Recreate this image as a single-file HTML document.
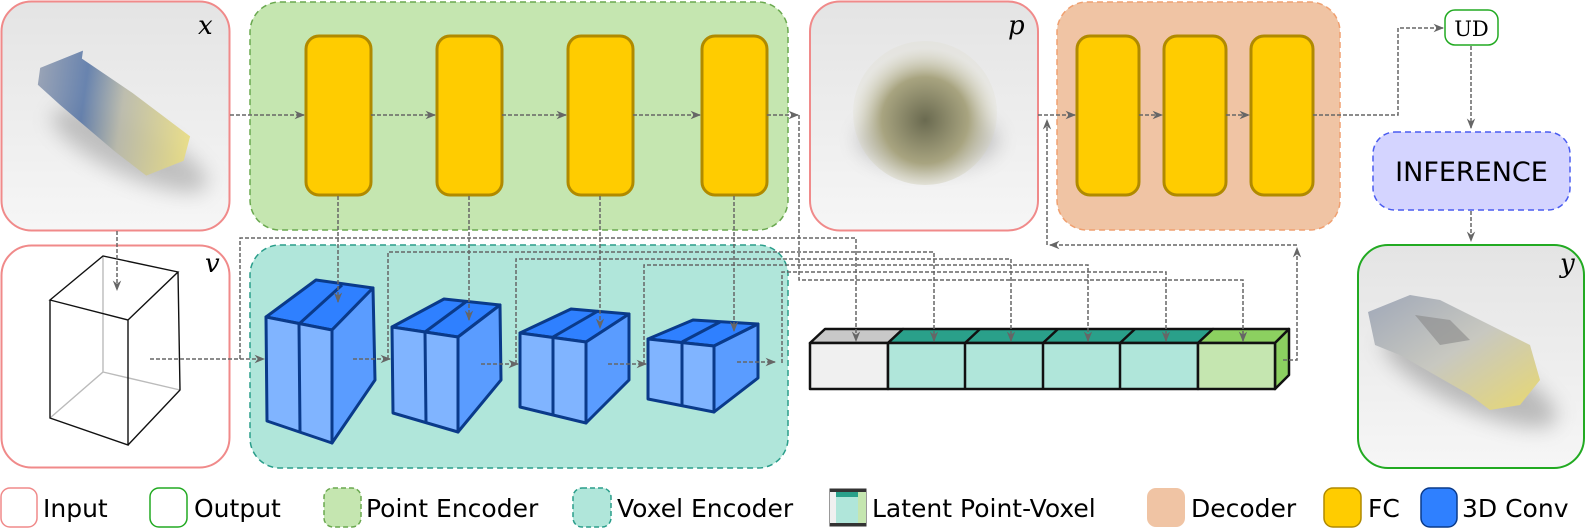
<!DOCTYPE html>
<html><head><meta charset="utf-8"><style>
html,body{margin:0;padding:0;background:#fff;}
svg{display:block}
text{font-family:"DejaVu Sans","Liberation Sans",sans-serif;}
.sym{font-family:"DejaVu Serif","Liberation Serif",serif;font-style:italic;font-size:26px;}
</style></head><body>
<svg width="1587" height="528" viewBox="0 0 1587 528" xmlns="http://www.w3.org/2000/svg">
<defs>
<linearGradient id="bg" x1="0" y1="0" x2="0" y2="1"><stop offset="0" stop-color="#e4e4e4"/><stop offset="1" stop-color="#f6f6f6"/></linearGradient>
<linearGradient id="car" x1="0" y1="0" x2="1" y2="0"><stop offset="0" stop-color="#8f9bb0"/><stop offset="0.3" stop-color="#5a78a8"/><stop offset="0.55" stop-color="#b8b8a8"/><stop offset="1" stop-color="#e8dc80"/></linearGradient>
<radialGradient id="cloud" cx="0.5" cy="0.55" r="0.5"><stop offset="0" stop-color="#6a6a50"/><stop offset="0.6" stop-color="#a8a480"/><stop offset="1" stop-color="#d8d6c0" stop-opacity="0.2"/></radialGradient>
<linearGradient id="car2" x1="0" y1="0" x2="1" y2="1"><stop offset="0" stop-color="#a0a8b8"/><stop offset="0.5" stop-color="#c8c8c0"/><stop offset="1" stop-color="#e8d870"/></linearGradient>
<filter id="bl" x="-50%" y="-50%" width="200%" height="200%"><feGaussianBlur stdDeviation="10"/></filter>
<marker id="ar" viewBox="0 0 10 10" refX="9" refY="5" markerWidth="7" markerHeight="7" orient="auto"><path d="M0,1 L10,5 L0,9 L3,5 z" fill="#666"/></marker>
</defs>

<rect x="1.5" y="1.5" width="228" height="229" rx="30" fill="url(#bg)" stroke="#f08a8a" stroke-width="2"/>
<ellipse cx="130" cy="150" rx="85" ry="25" fill="#666" opacity="0.35" filter="url(#bl)" transform="rotate(25 130 150)"/>
<path d="M35,78 L75,55 L75,63 L130,90 L193,125 L190,150 L155,170 L120,150 L60,112 L35,95 z" fill="url(#car)" opacity="0.9" transform="rotate(8 110 110)"/>
<text class="sym" x="198" y="34">x</text>

<rect x="1.5" y="245.5" width="228" height="222" rx="30" fill="#fff" stroke="#f08a8a" stroke-width="2"/>
<g fill="none" stroke-width="1.4">
<path d="M103,256 L103,372 L50,418 M103,372 L180,390" stroke="#bbb"/>
<path d="M50,300 L128,320 L178,272 L103,256 Z M50,300 L50,418 L128,445 L128,320 M128,445 L180,390 L178,272" stroke="#111"/>
</g>
<text class="sym" x="205" y="272">v</text>

<rect x="250" y="2" width="538" height="228" rx="30" fill="#c5e6b0" stroke="#6aa84f" stroke-width="1.5" stroke-dasharray="6,4"/>
<rect x="250" y="245" width="538" height="223" rx="30" fill="#b0e6da" stroke="#2a9d8a" stroke-width="1.5" stroke-dasharray="6,4"/>

<rect x="810" y="1.5" width="228" height="229" rx="30" fill="url(#bg)" stroke="#f08a8a" stroke-width="2"/>
<ellipse cx="928" cy="140" rx="70" ry="30" fill="#555" opacity="0.3" filter="url(#bl)"/>
<ellipse cx="925" cy="113" rx="72" ry="72" fill="url(#cloud)"/>
<text class="sym" x="1008" y="34">p</text>

<rect x="1057" y="2" width="283" height="228" rx="30" fill="#f0c4a4" stroke="#f0a070" stroke-width="1.5" stroke-dasharray="6,4"/>

<g fill="#ffcc00" stroke="#b08a00" stroke-width="3">
<rect x="306" y="36" width="65" height="159" rx="13"/>
<rect x="437" y="36" width="65" height="159" rx="13"/>
<rect x="568" y="36" width="65" height="159" rx="13"/>
<rect x="702" y="36" width="65" height="159" rx="13"/>
<rect x="1077" y="36" width="62" height="159" rx="13"/>
<rect x="1164" y="36" width="62" height="159" rx="13"/>
<rect x="1251" y="36" width="62" height="159" rx="13"/>
</g>

<rect x="1445" y="10" width="53" height="35" rx="10" fill="#fff" stroke="#22aa22" stroke-width="1.5"/>
<text x="1471.5" y="36" text-anchor="middle" style="font-family:'DejaVu Serif','Liberation Serif',serif;font-size:21px">UD</text>
<rect x="1373" y="132" width="197" height="78" rx="22" fill="#d4d4ff" stroke="#4a5cf0" stroke-width="1.5" stroke-dasharray="6,4"/>
<text x="1471.5" y="181" text-anchor="middle" style="font-size:27px">INFERENCE</text>
<rect x="1358" y="245" width="226" height="223" rx="30" fill="url(#bg)" stroke="#22aa22" stroke-width="2"/>
<ellipse cx="1470" cy="380" rx="95" ry="28" fill="#555" opacity="0.35" filter="url(#bl)" transform="rotate(25 1470 380)"/>
<path d="M1368,312 L1410,295 L1440,300 L1500,330 L1530,345 L1540,380 L1520,405 L1490,410 L1470,395 L1400,355 L1375,345 z" fill="url(#car2)"/>
<path d="M1415,315 L1450,320 L1470,340 L1440,345 z" fill="#888" opacity="0.6"/>
<text class="sym" x="1560" y="272">y</text>

<g stroke="#0a3a8a" stroke-width="3" stroke-linejoin="round">
<path d="M266,317 L316,280 L373,288 L332,330 Z" fill="#2f80ff"/>
<path d="M332,330 L373,288 L375,380 L332,443 Z" fill="#5a9cff"/>
<path d="M266,317 L332,330 L332,443 L267,421 Z" fill="#80b4ff"/>
<path d="M299,324 L300,432 M299,324 L342,285" fill="none"/>
<path d="M392,327 L444,299 L500,305 L458,337 Z" fill="#2f80ff"/>
<path d="M458,337 L500,305 L501,380 L458,432 Z" fill="#5a9cff"/>
<path d="M392,327 L458,337 L458,432 L393,413 Z" fill="#80b4ff"/>
<path d="M425,332 L426,423 M425,332 L467,301" fill="none"/>
<path d="M520,333 L571,309 L629,314 L586,342 Z" fill="#2f80ff"/>
<path d="M586,342 L629,314 L629,380 L586,423 Z" fill="#5a9cff"/>
<path d="M520,333 L586,342 L586,423 L520,407 Z" fill="#80b4ff"/>
<path d="M553,337 L553,415 M553,337 L598,311" fill="none"/>
<path d="M648,339 L693,320 L758,324 L714,346 Z" fill="#2f80ff"/>
<path d="M714,346 L758,324 L758,378 L714,412 Z" fill="#5a9cff"/>
<path d="M648,339 L714,346 L714,412 L648,399 Z" fill="#80b4ff"/>
<path d="M682,342 L682,405 M682,342 L720,322" fill="none"/>
</g>

<g stroke="#111" stroke-width="2.5" stroke-linejoin="round">
<path d="M810,343 L825,329 L903,329 L888,343 Z" fill="#c8c8c8"/>
<path d="M888,343 L903,329 L1213,329 L1198,343 Z" fill="#2aa08a"/>
<path d="M1198,343 L1213,329 L1289,329 L1275,343 Z" fill="#8cd060"/>
<path d="M1275,343 L1289,329 L1289,375 L1275,389 Z" fill="#8cd060"/>
<rect x="810" y="343" width="78" height="46" fill="#f0f0f0"/>
<rect x="888" y="343" width="310" height="46" fill="#b0e6da"/>
<rect x="1198" y="343" width="77" height="46" fill="#c5e6b0"/>
<path d="M965,343 V389 M1043,343 V389 M1120,343 V389 M980,329 L965,343 M1058,329 L1043,343 M1135,329 L1120,343" fill="none"/>
</g>

<g fill="none" stroke="#666" stroke-width="1.5" stroke-dasharray="4,2">
<path d="M230,115 H304" marker-end="url(#ar)"/>
<path d="M371,115 H435" marker-end="url(#ar)"/>
<path d="M502,115 H566" marker-end="url(#ar)"/>
<path d="M633,115 H700" marker-end="url(#ar)"/>
<path d="M767,115 H798" marker-end="url(#ar)"/>
<path d="M799,115 V280 H1243 V341" marker-end="url(#ar)"/>
<path d="M1038,115 H1075" marker-end="url(#ar)"/>
<path d="M1139,115 H1162" marker-end="url(#ar)"/>
<path d="M1226,115 H1249" marker-end="url(#ar)"/>
<path d="M1313,115 H1398 V28 H1443" marker-end="url(#ar)"/>
<path d="M1471,46 V128" marker-end="url(#ar)"/>
<path d="M1471,211 V241" marker-end="url(#ar)"/>
<path d="M117,231 V290" marker-end="url(#ar)"/>
<path d="M150,359 H264" marker-end="url(#ar)"/>
<path d="M240,359 V238 H856 V341" marker-end="url(#ar)"/>
<path d="M353,359 H390" marker-end="url(#ar)"/>
<path d="M388,359 V252 H934 V341" marker-end="url(#ar)"/>
<path d="M481,364 H518" marker-end="url(#ar)"/>
<path d="M516,364 V259 H1011 V341" marker-end="url(#ar)"/>
<path d="M608,364 H646" marker-end="url(#ar)"/>
<path d="M644,364 V265 H1088 V341" marker-end="url(#ar)"/>
<path d="M737,362 H775" marker-end="url(#ar)"/>
<path d="M782,363 V272 H1166 V341" marker-end="url(#ar)"/>
<path d="M338,196 V302" marker-end="url(#ar)"/>
<path d="M469,196 V320" marker-end="url(#ar)"/>
<path d="M600,196 V328" marker-end="url(#ar)"/>
<path d="M734,196 V331" marker-end="url(#ar)"/>
<path d="M1283,360 H1297 V248" marker-end="url(#ar)"/>
<path d="M1297,245 H1050" marker-end="url(#ar)"/>
<path d="M1047,245 V120" marker-end="url(#ar)"/>
</g>

<g stroke-width="1.5">
<rect x="1" y="488" width="36" height="39" rx="9" fill="#fff" stroke="#f08a8a"/>
<rect x="150" y="488" width="37" height="39" rx="9" fill="#fff" stroke="#22aa22"/>
<rect x="324" y="488" width="37" height="39" rx="9" fill="#c5e6b0" stroke="#6aa84f" stroke-dasharray="5,3"/>
<rect x="573" y="488" width="38" height="39" rx="9" fill="#b0e6da" stroke="#2a9d8a" stroke-dasharray="5,3"/>
<rect x="1147" y="488" width="38" height="39" rx="9" fill="#f0c4a4" stroke="none"/>
<rect x="1324" y="488" width="37" height="39" rx="9" fill="#ffcc00" stroke="#b08a00"/>
<rect x="1421" y="488" width="36" height="39" rx="9" fill="#2f80ff" stroke="#0a3a8a"/>
</g>
<g>
<rect x="830" y="489" width="36" height="37" fill="#b0e6da" stroke="#333" stroke-width="1"/>
<rect x="830" y="489" width="36" height="8" fill="#2aa08a"/>
<rect x="830" y="489" width="6" height="37" fill="#f0f0f0"/>
<rect x="858" y="489" width="8" height="37" fill="#c5e6b0"/>
<rect x="830" y="489" width="36" height="3" fill="#333"/>
<rect x="830" y="523" width="36" height="3" fill="#333"/>
</g>
<g style="font-size:25px" fill="#000">
<text x="43" y="517">Input</text>
<text x="194" y="517">Output</text>
<text x="366" y="517">Point Encoder</text>
<text x="617" y="517">Voxel Encoder</text>
<text x="872" y="517">Latent Point-Voxel</text>
<text x="1191" y="517">Decoder</text>
<text x="1368" y="517">FC</text>
<text x="1462" y="517">3D Conv</text>
</g>
</svg>
</body></html>
